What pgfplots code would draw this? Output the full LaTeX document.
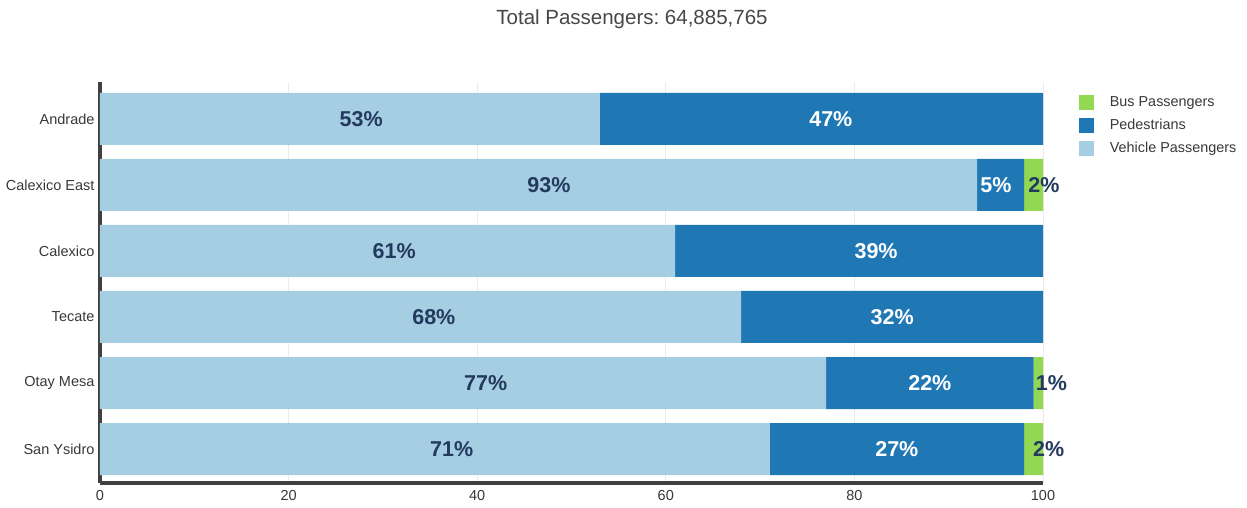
\documentclass[border=0pt]{standalone}
\usepackage{fontspec}
\setmainfont{Liberation Sans}
\usepackage{pgfplots}
\pgfplotsset{compat=1.18}
\definecolor{vehc}{HTML}{A6CEE3}
\definecolor{pedc}{HTML}{1F78B4}
\definecolor{busc}{HTML}{92D853}
\definecolor{labdark}{HTML}{233A5E}
\frenchspacing
\begin{document}
\begin{tikzpicture}[x=1pt,y=1pt]
\path[use as bounding box] (0,0) rectangle (1247,507);
\node[font=\fontsize{20.5}{22}\selectfont, text=black!72] at (632,488) {Total Passengers: 64,885,765};
\begin{axis}[
  at={(100pt,24pt)}, anchor=south west,
  scale only axis, width=943pt, height=401pt,
  xbar stacked, bar width=52pt,
  xmin=0, xmax=100, ymin=-0.515, ymax=5.56,
  ytick={0,...,5},
  yticklabels={San Ysidro,Otay Mesa,Tecate,Calexico,Calexico East,Andrade},
  xtick={0,20,...,100},
  xmajorgrids, grid style={black!8, line width=0.8pt},
  axis x line*=bottom, axis y line*=left,
  axis line style={-, line width=3.5pt, draw=black!75},
  major tick length=0pt,
  ticklabel style={font=\fontsize{14.5}{16}\selectfont, text=black!78},
  yticklabel style={xshift=-2pt},
  xticklabel style={yshift=-4pt},
  /pgf/number format/assume math mode=true,
  reverse legend,
  legend cell align=left,
  legend image code/.code={\fill[#1] (0pt,-7.5pt) rectangle (15pt,7.5pt);},
  legend style={at={(rel axis cs:1.038,0.9676)}, anchor=north west, draw=none, fill=none,
    inner sep=0pt, outer sep=0pt, font=\fontsize{14.4}{16}\selectfont, text=black!78,
    row sep=8pt, nodes={inner sep=0pt},
    /tikz/every odd column/.append style={column sep=16pt}},
]
\addplot[fill=vehc, draw=none] coordinates {(53,5) (93,4) (61,3) (68,2) (77,1) (71,0)};
\addlegendentry{Vehicle Passengers}
\addplot[fill=pedc, draw=none] coordinates {(47,5) (5,4) (39,3) (32,2) (22,1) (27,0)};
\addlegendentry{Pedestrians}
\addplot[fill=busc, draw=none] coordinates {(0,5) (2,4) (0,3) (0,2) (1,1) (2,0)};
\addlegendentry{Bus Passengers}
\end{axis}
\begin{axis}[
  at={(100pt,24pt)}, anchor=south west,
  scale only axis, width=943pt, height=401pt,
  xmin=0, xmax=100, ymin=-0.515, ymax=5.56,
  hide axis, clip=false,
]
\addplot[only marks, mark=*, mark size=0pt, draw=none, nodes near coords, point meta=explicit symbolic,
  every node near coord/.style={anchor=center, font=\bfseries\fontsize{21.5}{22}\selectfont, text=labdark}]
  table[meta=l] {
x y l
27.7 5 53\%
47.6 4 93\%
100.1 4 2\%
31.2 3 61\%
35.4 2 68\%
40.9 1 77\%
100.9 1 1\%
37.3 0 71\%
100.6 0 2\%
};
\addplot[only marks, mark=*, mark size=0pt, draw=none, nodes near coords, point meta=explicit symbolic,
  every node near coord/.style={anchor=center, font=\bfseries\fontsize{21.5}{22}\selectfont, text=white}]
  table[meta=l] {
x y l
77.5 5 47\%
95.0 4 5\%
82.3 3 39\%
84.0 2 32\%
88.0 1 22\%
84.5 0 27\%
};
\end{axis}
\end{tikzpicture}
\end{document}
